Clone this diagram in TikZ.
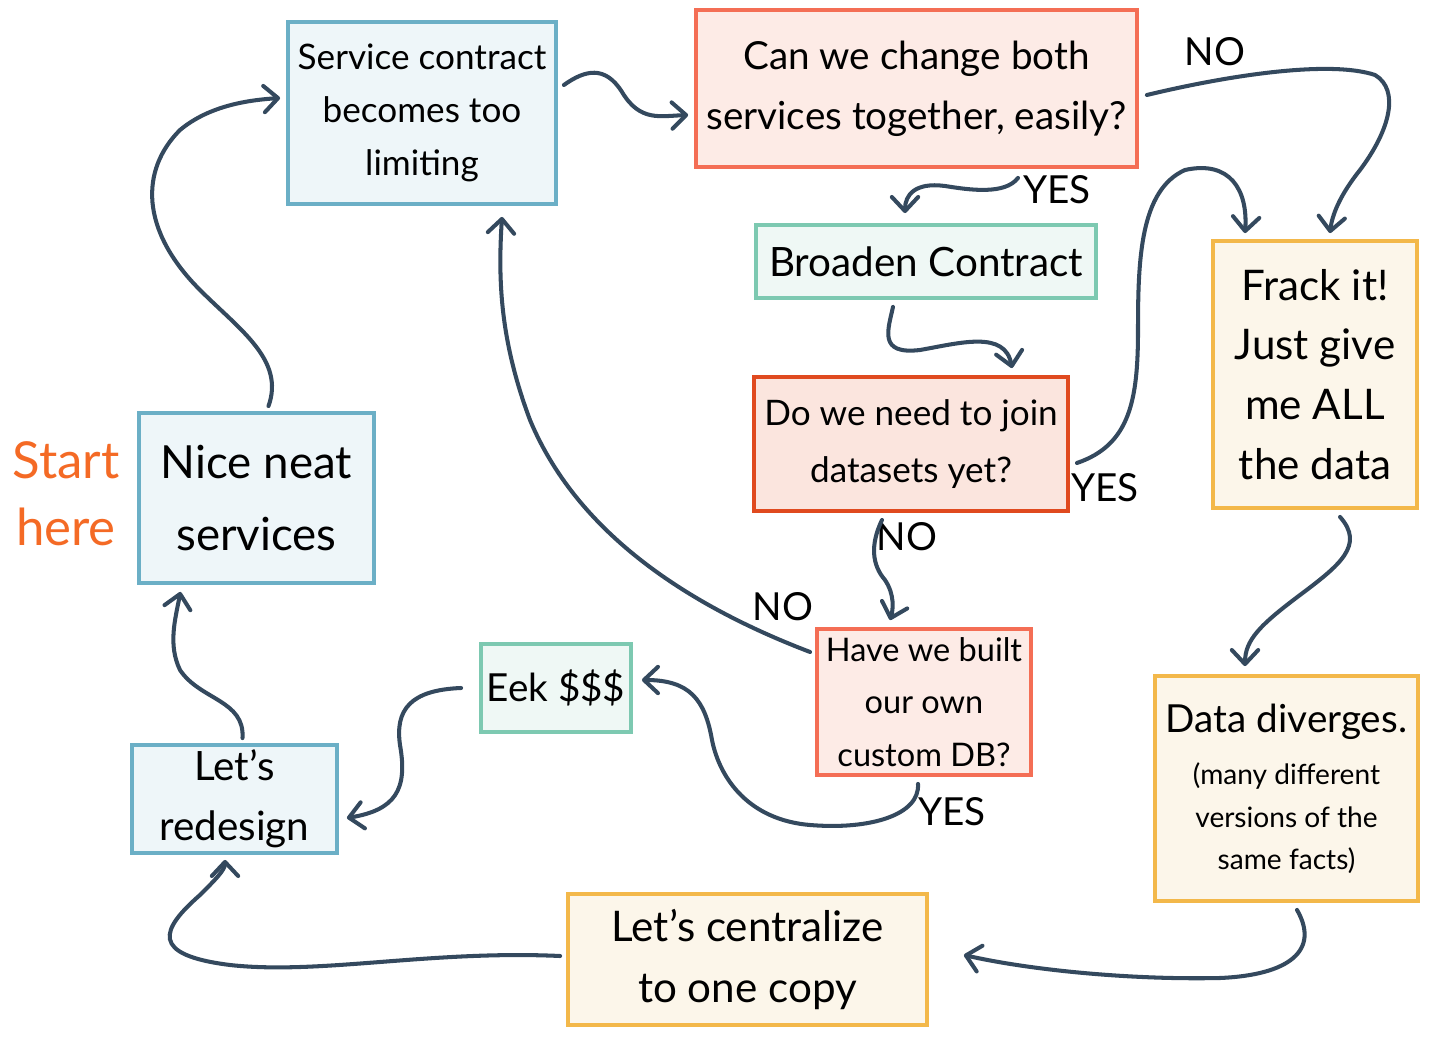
\documentclass[tikz,border=0pt]{standalone}
\usepackage{fontspec}
\setmainfont{Lato}
\usetikzlibrary{arrows.meta}
\definecolor{bluedraw}{HTML}{6BAFC6}
\definecolor{bluefill}{HTML}{EEF6F9}
\definecolor{reddraw}{HTML}{F46E55}
\definecolor{redfill}{HTML}{FDEBE6}
\definecolor{deepdraw}{HTML}{E04A1F}
\definecolor{deepfill}{HTML}{FBE5DE}
\definecolor{greendraw}{HTML}{7DC9B1}
\definecolor{greenfill}{HTML}{EFF8F5}
\definecolor{yellowdraw}{HTML}{F3B84A}
\definecolor{yellowfill}{HTML}{FCF6EA}
\definecolor{arrowc}{HTML}{34495E}
\definecolor{startc}{HTML}{F46A25}
\newcommand\hfs[2]{\fontsize{#1}{#2}\selectfont}
\tikzset{
  box/.style={draw,line width=2.2pt,rectangle,align=center,inner sep=0pt},
  bluebox/.style={box,draw=bluedraw,fill=bluefill},
  redbox/.style={box,draw=reddraw,fill=redfill},
  deepbox/.style={box,draw=deepdraw,fill=deepfill},
  greenbox/.style={box,draw=greendraw,fill=greenfill},
  yellowbox/.style={box,draw=yellowdraw,fill=yellowfill},
  flow/.style={draw=arrowc,line width=2.3pt,line cap=round,
    -{Straight Barb[length=8pt,width=15pt,round]}},
  answer/.style={inner sep=0pt,font=\hfs{22}{24}}
}
\begin{document}
\begin{tikzpicture}[x=0.02cm,y=-0.02cm]
\useasboundingbox (0,0) rectangle (1440,1043);
% boxes
\node[bluebox,minimum width=5.36cm,minimum height=3.64cm,font=\hfs{20}{30}] (svc) at (422,113) {Service contract\\becomes too\\limiting};
\node[redbox,minimum width=8.82cm,minimum height=3.14cm,font=\hfs{22}{34}] (can) at (916.5,88.5) {Can we change both\\services together, easily?};
\node[greenbox,minimum width=6.8cm,minimum height=1.46cm,font=\hfs{23}{28}] (broad) at (926,261.5) {Broaden Contract};
\node[deepbox,minimum width=6.28cm,minimum height=2.68cm,font=\hfs{20}{32}] (join) at (911,444) {Do we need to join\\datasets yet?};
\node[yellowbox,minimum width=4.08cm,minimum height=5.34cm,font=\hfs{24}{34}] (frack) at (1315,374.5) {Frack it!\\Just give\\me ALL\\the data};
\node[bluebox,minimum width=4.7cm,minimum height=3.4cm,font=\hfs{26}{41}] (nice) at (256.5,498) {Nice neat\\services};
\node[redbox,minimum width=4.28cm,minimum height=2.92cm,font=\hfs{18.5}{30}] (built) at (924,702) {Have we built\\our own\\custom DB?};
\node[greenbox,minimum width=3.0cm,minimum height=1.76cm,font=\hfs{22}{28}] (eek) at (556,688) {Eek \$\$\$};
\node[bluebox,minimum width=4.1cm,minimum height=2.16cm,font=\hfs{23}{34}] (redo) at (234.5,799) {Let's\\redesign};
\node[yellowbox,minimum width=5.26cm,minimum height=4.5cm,font=\hfs{16}{24}] (diverge) at (1286.5,788.5) {\hfs{22}{24}Data diverges.\\[6pt](many different\\versions of the\\same facts)};
\node[yellowbox,minimum width=7.18cm,minimum height=2.62cm,font=\hfs{24}{35}] (central) at (747.5,959.5) {Let's centralize\\to one copy};
\node[text=startc,align=center,font=\hfs{29}{38}] (start) at (66,494) {Start\\here};
% answers
\node[answer] (no1) at (1215,52) {NO};
\node[answer] (yes1) at (1057,190) {YES};
\node[answer] (yes2) at (1105,488) {YES};
\node[answer] (no2) at (907,537) {NO};
\node[answer] (no3) at (783,607) {NO};
\node[answer] (yes3) at (952,812) {YES};
% connectors
\draw[flow] ([shift={(6,-28)}]svc.east) .. controls (585,70) and (605,65) .. (622,92) .. controls (640,122) and (660,116) .. ([shift={(-6,26.5)}]can.west);
\draw[flow] ([shift={(8,6.5)}]can.east) .. controls (1230,75) and (1330,60) .. (1375,75) .. controls (1400,90) and (1390,130) .. (1360,170) .. controls (1340,195) and (1332,215) .. ([shift={(15,-6)}]frack.north);
\draw[flow] ([shift={(101.5,9)}]can.south) .. controls (1005,195) and (970,190) .. (945,186) .. controls (915,182) and (905,195) .. ([shift={(-21,-10)}]broad.north);
\draw[flow] ([shift={(-33,7)}]broad.south) .. controls (888,330) and (878,355) .. (920,350) .. controls (960,343) and (1005,330) .. ([shift={(101,-7)}]join.north);
\draw[flow] ([shift={(7,19)}]join.east) .. controls (1130,445) and (1138,400) .. (1138,330) .. controls (1138,260) and (1140,190) .. (1185,170) .. controls (1230,160) and (1248,190) .. ([shift={(-70,-6)}]frack.north);
\draw[flow] ([shift={(-29,7)}]join.south) .. controls (870,545) and (872,565) .. (885,580) .. controls (895,595) and (893,610) .. ([shift={(-34,-7)}]built.north);
\draw[flow] ([shift={(-5,-50)}]built.west) .. controls (700,610) and (580,540) .. (530,420) .. controls (500,340) and (498,280) .. ([shift={(80,11)}]svc.south);
\draw[flow] ([shift={(-6,7)}]built.south) .. controls (920,815) and (870,830) .. (810,825) .. controls (750,820) and (720,780) .. (712,740) .. controls (705,700) and (690,680) .. ([shift={(9,-8)}]eek.east);
\draw[flow] ([shift={(-18,0)}]eek.west) .. controls (410,690) and (395,710) .. (400,745) .. controls (408,790) and (395,810) .. ([shift={(8,19)}]redo.east);
\draw[flow] ([shift={(8,-5)}]redo.north) .. controls (245,700) and (200,700) .. (180,670) .. controls (168,645) and (175,620) .. ([shift={(-76,7)}]nice.south);
\draw[flow] ([shift={(12,-5)}]nice.north) .. controls (285,360) and (240,330) .. (200,290) .. controls (140,230) and (140,170) .. (180,130) .. controls (210,105) and (250,100) .. ([shift={(-6,-15)}]svc.west);
\draw[flow] ([shift={(25,7)}]frack.south) .. controls (1365,545) and (1340,565) .. (1300,595) .. controls (1260,625) and (1245,640) .. ([shift={(-41.5,-8)}]diverge.north);
\draw[flow] ([shift={(10.5,7)}]diverge.south) .. controls (1320,950) and (1290,975) .. (1220,978) .. controls (1130,980) and (1030,970) .. ([shift={(35,-4.5)}]central.east);
\draw[flow] ([shift={(-6,-3.5)}]central.west) .. controls (430,950) and (320,975) .. (230,965) .. controls (150,955) and (160,930) .. (200,895) .. controls (215,880) and (225,870) .. ([shift={(-9.5,5)}]redo.south);
\end{tikzpicture}
\end{document}
